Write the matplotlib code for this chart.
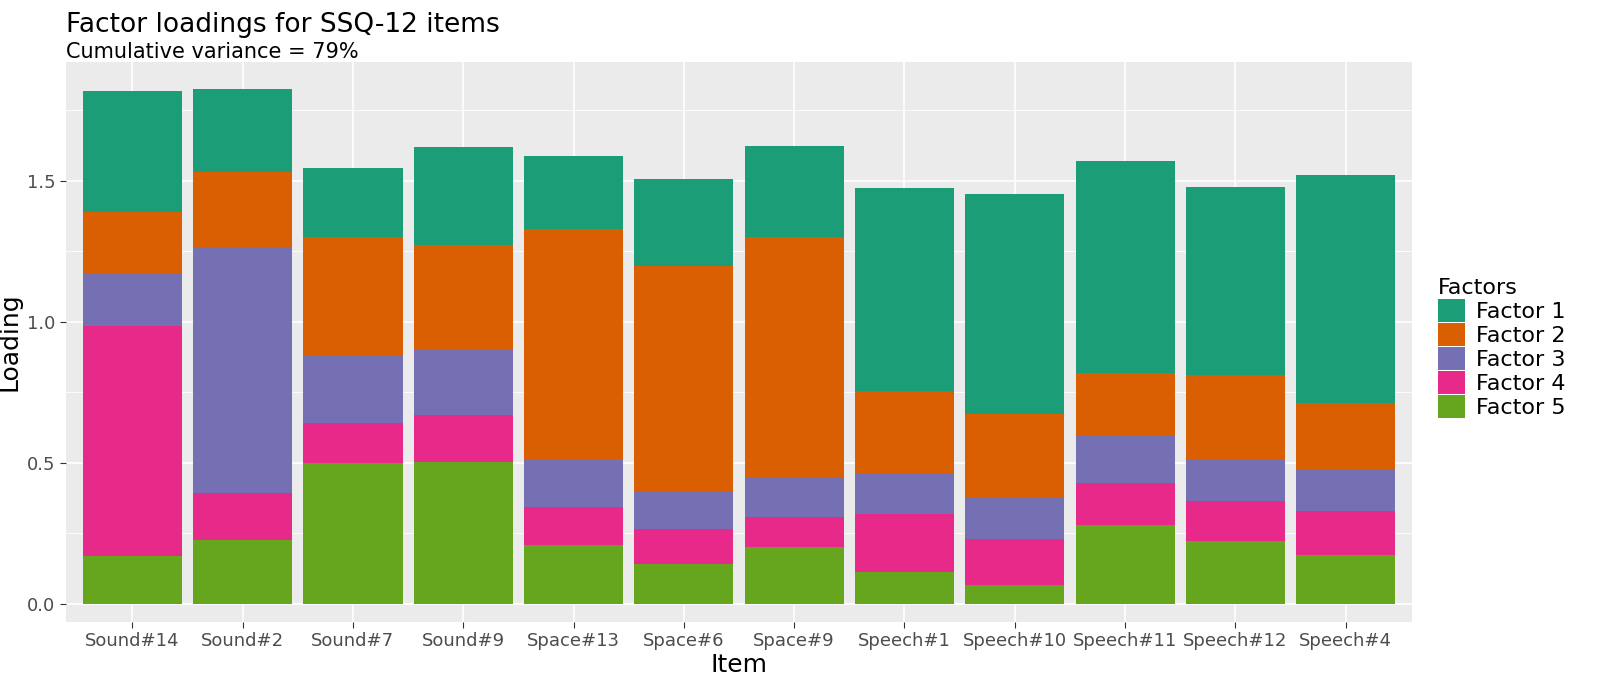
import matplotlib
matplotlib.use("Agg")
import matplotlib.pyplot as plt
from matplotlib.patches import Patch
import numpy as np

items = ["Sound#14", "Sound#2", "Sound#7", "Sound#9", "Space#13", "Space#6",
         "Space#9", "Speech#1", "Speech#10", "Speech#11", "Speech#12", "Speech#4"]
factors = ["Factor 1", "Factor 2", "Factor 3", "Factor 4", "Factor 5"]
colors = ["#1B9E77", "#D95F02", "#7570B3", "#E7298A", "#66A61E"]

# loadings per factor, one value per item
factor1 = [0.430, 0.294, 0.246, 0.347, 0.259, 0.308, 0.324, 0.720, 0.780, 0.752, 0.667, 0.808]
factor2 = [0.220, 0.270, 0.417, 0.369, 0.820, 0.799, 0.850, 0.290, 0.295, 0.220, 0.298, 0.234]
factor3 = [0.184, 0.868, 0.241, 0.234, 0.166, 0.134, 0.141, 0.146, 0.149, 0.170, 0.149, 0.149]
factor4 = [0.816, 0.167, 0.142, 0.166, 0.135, 0.124, 0.107, 0.206, 0.163, 0.149, 0.142, 0.156]
factor5 = [0.170, 0.227, 0.500, 0.504, 0.209, 0.142, 0.202, 0.113, 0.067, 0.280, 0.223, 0.174]
series = [factor1, factor2, factor3, factor4, factor5]

fig = plt.figure(figsize=(16, 7), dpi=100)
ax = fig.add_axes([66 / 1600, 1 - 622 / 700, (1412 - 66) / 1600, (622 - 62) / 700])
ax.set_facecolor("#EBEBEB")
ax.set_axisbelow(True)

x = np.arange(len(items))
bottom = np.zeros(len(items))
# stack factor 5 at the bottom, factor 1 on top
for vals, col in zip(series[::-1], colors[::-1]):
    ax.bar(x, vals, width=0.9, bottom=bottom, color=col, linewidth=0)
    bottom += np.array(vals)

ax.set_xlim(-0.6, len(items) - 0.4)
ax.set_ylim(-0.064, 1.922)
ax.set_yticks([0, 0.5, 1.0, 1.5])
ax.set_yticklabels(["0.0", "0.5", "1.0", "1.5"])
ax.set_yticks([0.25, 0.75, 1.25, 1.75], minor=True)
ax.set_xticks(x)
ax.set_xticklabels(items)
ax.grid(True, which="major", color="white", linewidth=1.2)
ax.grid(True, which="minor", axis="y", color="white", linewidth=0.6)
for s in ax.spines.values():
    s.set_visible(False)
ax.tick_params(axis="both", which="major", labelsize=13, color="#333333",
               labelcolor="#4D4D4D", length=4)
ax.tick_params(axis="y", which="minor", length=0)

ax.set_xlabel("Item", fontsize=18, labelpad=2)
ax.set_ylabel("Loading", fontsize=18)
fig.text(66 / 1600, 1 - 32 / 700, "Factor loadings for SSQ-12 items", fontsize=19, va="baseline")
fig.text(66 / 1600, 1 - 58 / 700, "Cumulative variance = 79%", fontsize=15, va="baseline")

handles = [Patch(facecolor=c, edgecolor="none") for c in colors]
leg = fig.legend(handles, factors, title="Factors", loc="center left",
                 bbox_to_anchor=(1418 / 1600, 1 - 348 / 700), frameon=False,
                 fontsize=16, title_fontsize=16, handlelength=1.2, handleheight=1.2,
                 labelspacing=0.05, handletextpad=0.5)
leg._legend_box.align = "left"

fig.savefig("out.png", dpi=100)
